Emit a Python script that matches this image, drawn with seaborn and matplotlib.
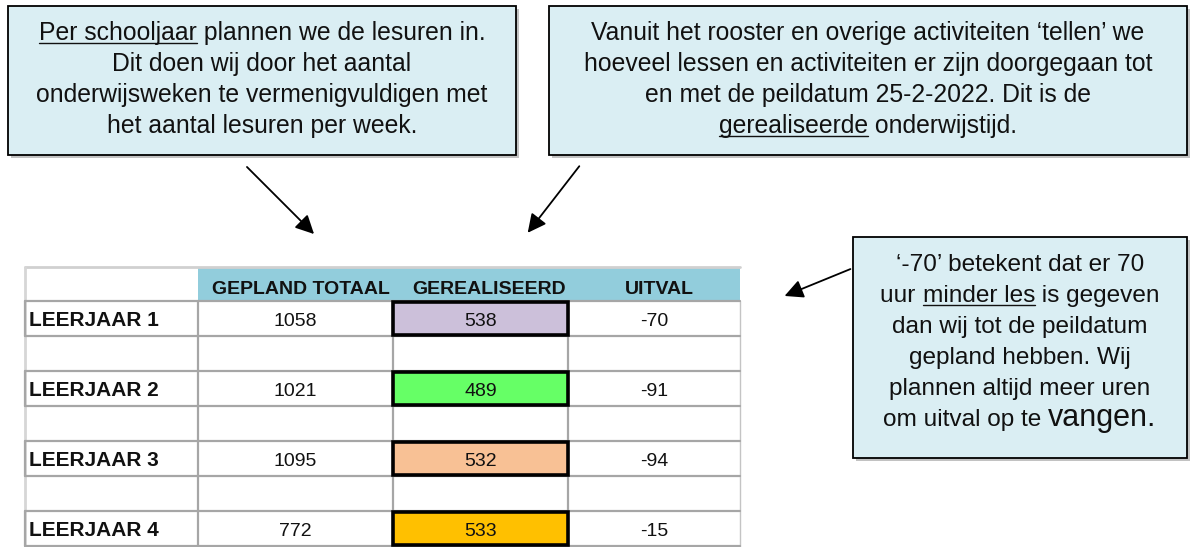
import matplotlib
matplotlib.use("Agg")
import matplotlib.pyplot as plt
import seaborn as sns
from matplotlib.patches import Rectangle

# tabelgegevens
leerjaren = ['LEERJAAR 1', 'LEERJAAR 2', 'LEERJAAR 3', 'LEERJAAR 4']
kolommen = ['GEPLAND TOTAAL', 'GEREALISEERD', 'UITVAL']
gepland_totaal = [1058, 1021, 1095, 772]
gerealiseerd = [538, 489, 532, 533]
uitval = [-70, -91, -94, -15]

# kleuren van de cellen in de kolom gerealiseerd
cel_kleuren = sns.color_palette(['#CCC0DA', '#66FF66', '#F8C195', '#FFC000'])

# teksten in de uitlegblokken: (tekst, onderstreept, groot)
tekst_links = [
    [('Per schooljaar', True, False), (' plannen we de lesuren in.', False, False)],
    [('Dit doen wij door het aantal', False, False)],
    [('onderwijsweken te vermenigvuldigen met', False, False)],
    [('het aantal lesuren per week.', False, False)],
]
tekst_midden = [
    [('Vanuit het rooster en overige activiteiten \u2018tellen\u2019 we', False, False)],
    [('hoeveel lessen en activiteiten er zijn doorgegaan tot', False, False)],
    [('en met de peildatum 25-2-2022. Dit is de', False, False)],
    [('gerealiseerde', True, False), (' onderwijstijd.', False, False)],
]
tekst_rechts = [
    [('\u2018-70\u2019 betekent dat er 70', False, False)],
    [('uur ', False, False), ('minder les', True, False), (' is gegeven', False, False)],
    [('dan wij tot de peildatum', False, False)],
    [('gepland hebben. Wij', False, False)],
    [('plannen altijd meer uren', False, False)],
    [('om uitval op te ', False, False), ('vangen.', False, True)],
]

sns.set_theme(style='white')
plt.rcParams['font.family'] = ['Liberation Sans', 'DejaVu Sans']

fig = plt.figure(figsize=(11.94, 5.47), dpi=100)
ax = fig.add_axes([0, 0, 1, 1])
ax.set_xlim(0, 1194)
ax.set_ylim(547, 0)
ax.axis('off')
renderer = fig.canvas.get_renderer()


def breedte(s, size):
    # breedte in pixels, ook met spaties aan het eind
    t1 = ax.text(0, 0, s + '|', fontsize=size)
    t2 = ax.text(0, 0, '|', fontsize=size)
    w = t1.get_window_extent(renderer).width - t2.get_window_extent(renderer).width
    t1.remove()
    t2.remove()
    return w


def tekstregel(cx, y, delen, size, groot=22):
    maten = [groot if g else size for _, _, g in delen]
    ws = [breedte(s, m) for (s, _, _), m in zip(delen, maten)]
    x = cx - sum(ws) / 2
    for (s, onder, g), m, w in zip(delen, maten, ws):
        ax.text(x, y, s, fontsize=m, ha='left', va='baseline', color='#111111', zorder=3)
        if onder:
            ax.plot([x, x + breedte(s.rstrip(), m)], [y + 3, y + 3], color='#111111',
                    lw=1, zorder=3)
        x += w


def blok(x0, y0, x1, y1, regels, cx, y_eerste, stap, size):
    ax.add_patch(Rectangle((x0 + 3, y0 + 3), x1 - x0, y1 - y0, facecolor='#9a9a9a',
                           edgecolor='none', alpha=0.6, zorder=1))
    ax.add_patch(Rectangle((x0, y0), x1 - x0, y1 - y0, facecolor='#DAEEF3',
                           edgecolor='black', lw=1.3, zorder=2))
    for i, regel in enumerate(regels):
        tekstregel(cx, y_eerste + i * stap, regel, size)


blok(8, 6, 516, 155, tekst_links, 262, 40, 31, 17.8)
blok(549, 6, 1187, 155, tekst_midden, 868, 40, 31, 17.8)
blok(853, 237, 1187, 458, tekst_rechts, 1020, 271, 31, 17.6)

# pijlen
pijl = dict(arrowstyle='-|>', color='black', lw=1.3, mutation_scale=28)
ax.annotate('', xy=(316, 236), xytext=(245, 165), arrowprops=pijl)
ax.annotate('', xy=(526, 235), xytext=(581, 164), arrowprops=pijl)
ax.annotate('', xy=(782, 297), xytext=(853, 268), arrowprops=pijl)

# tabel
kol_x = [25, 198, 393, 568, 740]
kop_y0, kop_y1 = 267, 301
rij_h = 35
grijs = '#A6A6A6'

ax.add_patch(Rectangle((kol_x[1], kop_y0), kol_x[-1] - kol_x[1], kop_y1 - kop_y0,
                       facecolor='#92CDDC', edgecolor='none'))
ax.plot([kol_x[0], kol_x[-1]], [kop_y0, kop_y0], color='#D0D0D0', lw=2)
ax.plot([kol_x[0], kol_x[0]], [kop_y0, 547], color='#D6D6D6', lw=2)
ax.plot([kol_x[-1], kol_x[-1]], [kop_y1, 547], color='#C4C4C4', lw=1)

n_rijen = 2 * len(leerjaren) - 1
for k in range(n_rijen + 1):
    y = kop_y1 + k * rij_h
    ax.plot([kol_x[0], kol_x[-1]], [y, y], color=grijs, lw=1.6)
for x in kol_x[1:-1]:
    ax.plot([x, x], [kop_y1, 547], color=grijs, lw=1.6)

kop_midden = [301, 489, 659]
for naam, cx in zip(kolommen, kop_midden):
    ax.text(cx, kop_y1 - 7, naam, fontsize=14, fontweight='bold',
            ha='center', va='baseline', color='#111111')

for i, naam in enumerate(leerjaren):
    y0 = kop_y1 + 2 * i * rij_h
    yb = y0 + 25
    ax.plot([kol_x[0], kol_x[0]], [y0, y0 + rij_h], color=grijs, lw=1.6)
    ax.text(kol_x[0] + 4, yb, naam, fontsize=15, fontweight='bold',
            ha='left', va='baseline', color='#111111')
    ax.text((kol_x[1] + kol_x[2]) / 2, yb, str(gepland_totaal[i]), fontsize=14,
            ha='center', va='baseline', color='#111111')
    ax.add_patch(Rectangle((kol_x[2], y0 + 1), kol_x[3] - kol_x[2], rij_h - 2,
                           facecolor=cel_kleuren[i], edgecolor='black', lw=2.6, zorder=4))
    ax.text((kol_x[2] + kol_x[3]) / 2, yb, str(gerealiseerd[i]), fontsize=14,
            ha='center', va='baseline', color='#111111', zorder=5)
    ax.text((kol_x[3] + kol_x[4]) / 2, yb, str(uitval[i]), fontsize=14,
            ha='center', va='baseline', color='#111111')

fig.savefig('out.png', dpi=100)
